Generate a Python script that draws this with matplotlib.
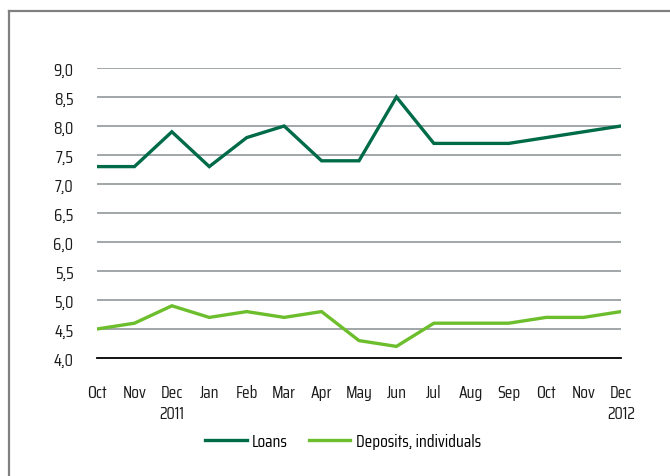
import matplotlib
matplotlib.use("Agg")
import matplotlib.pyplot as plt
from matplotlib.lines import Line2D

months = ["Oct", "Nov", "Dec", "Jan", "Feb", "Mar", "Apr", "May", "Jun",
          "Jul", "Aug", "Sep", "Oct", "Nov", "Dec"]
year_labels = {2: "2011", 14: "2012"}
loans = [7.3, 7.3, 7.9, 7.3, 7.8, 8.0, 7.4, 7.4, 8.5, 7.7, 7.7, 7.7, 7.8, 7.9, 8.0]
deposits = [4.5, 4.6, 4.9, 4.7, 4.8, 4.7, 4.8, 4.3, 4.2, 4.6, 4.6, 4.6, 4.7, 4.7, 4.8]
yticks = [4.0, 4.5, 5.0, 5.5, 6.0, 6.5, 7.0, 7.5, 8.0, 8.5, 9.0]

plt.rcParams['font.family'] = ['Saira Condensed', 'DejaVu Sans']
FS = 12.5

W, H = 670, 477
fig = plt.figure(figsize=(W / 100, H / 100), dpi=100)
ax = fig.add_axes([97 / W, 1 - 359 / H, (621 - 97) / W, (359 - 69) / H])

x = list(range(len(months)))
ax.plot(x, loans, color="#006B48", lw=2.4, solid_joinstyle="miter")
ax.plot(x, deposits, color="#6DBE2C", lw=2.4, solid_joinstyle="miter")

ax.set_xlim(0, len(months) - 1)
ax.set_ylim(4.0, 9.0)
ax.set_yticks(yticks)
ax.set_yticklabels([f"{v:.1f}".replace(".", ",") for v in yticks])
for v in yticks[1:]:
    ax.axhline(v, color="#9A9FA3", lw=1.3, zorder=0)
ax.axhline(4.0, color="#000000", lw=1.3, zorder=0, clip_on=False)

for s in ax.spines.values():
    s.set_visible(False)
ax.tick_params(axis="both", length=0, labelsize=FS, colors="#1A1A1A")
ax.tick_params(axis="y", pad=17)
ax.set_xticks(x)
ax.set_xticklabels([months[i] + ("\n" + year_labels[i] if i in year_labels else "") for i in x],
                   linespacing=1.35)
ax.tick_params(axis="x", pad=19)

# frame lines (left and top)
fig.add_artist(Line2D([9 / W, 9 / W], [0, 1 - 12 / H], transform=fig.transFigure,
                      color="#808080", lw=1.6))
fig.add_artist(Line2D([9 / W, 1], [1 - 12 / H, 1 - 12 / H], transform=fig.transFigure,
                      color="#808080", lw=1.6))

handles = [Line2D([], [], color="#006B48", lw=2.4), Line2D([], [], color="#6DBE2C", lw=2.4)]
fig.legend(handles, ["Loans", "Deposits, individuals"], loc="center",
           bbox_to_anchor=(343 / W, 1 - 442 / H), ncol=2, frameon=False,
           fontsize=FS, handlelength=2.4, handletextpad=0.3, columnspacing=1.2)

fig.savefig("out.png", dpi=100)
